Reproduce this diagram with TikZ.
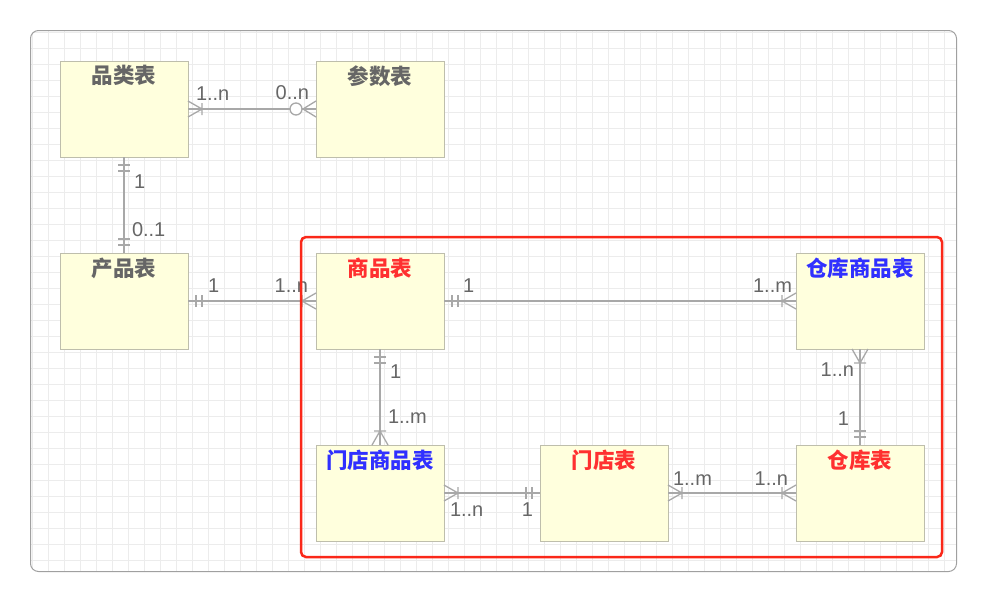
\documentclass[tikz,border=0pt]{standalone}
\usepackage{fontspec}
\setmainfont{Liberation Sans}
\newfontfamily\cjk{Noto Sans CJK SC}
\usepackage{xcolor}
\usepackage{tikz}
\usetikzlibrary{calc, fit, positioning}
\definecolor{tblfill}{RGB}{255,255,221}
\definecolor{tbldraw}{RGB}{190,190,172}
\definecolor{linkgray}{RGB}{168,168,168}
\definecolor{lblgray}{RGB}{102,102,102}
\definecolor{titlered}{RGB}{255,48,48}
\definecolor{titleblue}{RGB}{48,48,255}
\definecolor{framered}{RGB}{250,40,25}
\definecolor{framegray}{RGB}{160,160,160}
\definecolor{gridgray}{RGB}{236,236,236}
\tikzset{
    tblnode/.style = {draw=tbldraw, fill=tblfill, rectangle, line width=1pt, inner sep=0pt, outer sep=0pt,
      minimum width=128pt, minimum height=96pt},
    titlenode/.style = {font=\cjk\bfseries\fontsize{21.5}{24}\selectfont, text=lblgray, inner sep=0pt, outer sep=0pt},
    lblnode/.style = {font=\fontsize{20}{22}\selectfont, text=lblgray, inner sep=0pt, outer sep=0pt},
    connect/.style = {draw=linkgray, line width=1.3pt},
    gridline/.style = {draw=gridgray, line width=0.8pt},
    onemark/.pic = {\draw[connect] (8,-6) -- (8,6) (14,-6) -- (14,6);},
    manymark/.pic = {\draw[connect] (0,8) -- (14,0) -- (0,-8) (14,-6) -- (14,6);},
    zeromanymark/.pic = {\draw[connect] (0,8) -- (13,0) -- (0,-8); \draw[connect, fill=white] (20,0) circle (6);}
}

\begin{document}
\begin{tikzpicture}[x=1pt, y=1pt]
    \useasboundingbox (0,0) rectangle (987,-603);
    % background grid
    \begin{scope}
        \clip[rounded corners=8pt] (30.5,-30.5) rectangle (956.5,-571.5);
        \draw[gridline, step=16pt] (30,-572) grid (957,-30);
    \end{scope}
    \draw[framegray, line width=1pt, rounded corners=8pt] (30.5,-30.5) rectangle (956.5,-571.5);

    % tables
    \node [tblnode] (pinlei) at (124,-109) {};
    \node [tblnode, right=128pt of pinlei] (canshu) {};
    \node [tblnode, below=96pt of pinlei] (chanpin) {};
    \node [tblnode, right=128pt of chanpin] (shangpin) {};
    \node [tblnode, right=352pt of shangpin] (cangkusp) {};
    \node [tblnode, below=96pt of shangpin] (mendiansp) {};
    \node [tblnode, right=96pt of mendiansp] (mendian) {};
    \node [tblnode, below=96pt of cangkusp] (cangku) {};

    \node [titlenode, below=4.5pt of pinlei.north] (pinlei-t) {品类表};
    \node [titlenode, below=4.5pt of canshu.north] (canshu-t) {参数表};
    \node [titlenode, below=4.5pt of chanpin.north] (chanpin-t) {产品表};
    \node [titlenode, text=titlered, below=4.5pt of shangpin.north] (shangpin-t) {商品表};
    \node [titlenode, text=titleblue, below=4.5pt of cangkusp.north] (cangkusp-t) {仓库商品表};
    \node [titlenode, text=titleblue, below=4.5pt of mendiansp.north] (mendiansp-t) {门店商品表};
    \node [titlenode, text=titlered, below=4.5pt of mendian.north] (mendian-t) {门店表};
    \node [titlenode, text=titlered, below=4.5pt of cangku.north] (cangku-t) {仓库表};

    % relations
    \draw [connect] (pinlei) -- (canshu);
    \draw [connect] (pinlei) -- (chanpin);
    \draw [connect] (chanpin) -- (shangpin);
    \draw [connect] (shangpin) -- (cangkusp);
    \draw [connect] (shangpin) -- (mendiansp);
    \draw [connect] (cangkusp) -- (cangku);
    \draw [connect] (mendiansp) -- (mendian);
    \draw [connect] (mendian) -- (cangku);

    \pic at (pinlei.east) {manymark};
    \pic [rotate=180] at (canshu.west) {zeromanymark};
    \pic [rotate=-90] at (pinlei.south) {onemark};
    \pic [rotate=90] at (chanpin.north) {onemark};
    \pic at (chanpin.east) {onemark};
    \pic [rotate=180] at (shangpin.west) {manymark};
    \pic at (shangpin.east) {onemark};
    \pic [rotate=180] at (cangkusp.west) {manymark};
    \pic [rotate=-90] at (shangpin.south) {onemark};
    \pic [rotate=90] at (mendiansp.north) {manymark};
    \pic [rotate=-90] at (cangkusp.south) {manymark};
    \pic [rotate=90] at (cangku.north) {onemark};
    \pic at (mendiansp.east) {manymark};
    \pic [rotate=180] at (mendian.west) {onemark};
    \pic at (mendian.east) {manymark};
    \pic [rotate=180] at (cangku.west) {manymark};

    % cardinalities
    \node [lblnode, above right=9pt and 8pt of pinlei.east] (l-pc1) {1..n};
    \node [lblnode, above left=9pt and 7pt of canshu.west] (l-pc2) {0..n};
    \node [lblnode, below right=18pt and 10pt of pinlei.south] (l-pp1) {1};
    \node [lblnode, above right=16pt and 8pt of chanpin.north] (l-pp2) {0..1};
    \node [lblnode, above right=9pt and 20pt of chanpin.east] (l-cs1) {1};
    \node [lblnode, above left=9pt and 8pt of shangpin.west] (l-cs2) {1..n};
    \node [lblnode, above right=9pt and 19pt of shangpin.east] (l-sk1) {1};
    \node [lblnode, above left=9pt and 4pt of cangkusp.west] (l-sk2) {1..m};
    \node [lblnode, below right=16pt and 10pt of shangpin.south] (l-sm1) {1};
    \node [lblnode, above right=22pt and 8pt of mendiansp.north] (l-sm2) {1..m};
    \node [lblnode, below left=14pt and 6pt of cangkusp.south] (l-kc1) {1..n};
    \node [lblnode, above left=20pt and 11pt of cangku.north] (l-kc2) {1};
    \node [lblnode, below right=10pt and 6pt of mendiansp.east] (l-mm1) {1..n};
    \node [lblnode, below left=10pt and 7pt of mendian.west] (l-mm2) {1};
    \node [lblnode, above right=8pt and 5pt of mendian.east] (l-mc1) {1..m};
    \node [lblnode, above left=8pt and 8pt of cangku.west] (l-mc2) {1..n};

    % highlighted group
    \node [draw=framered, line width=2.5pt, rounded corners=5pt, inner xsep=16.5pt, inner ysep=16pt, xshift=1.5pt,
        fit=(shangpin)(cangkusp)(mendiansp)(cangku)] (storegroup) {};
\end{tikzpicture}
\end{document}
